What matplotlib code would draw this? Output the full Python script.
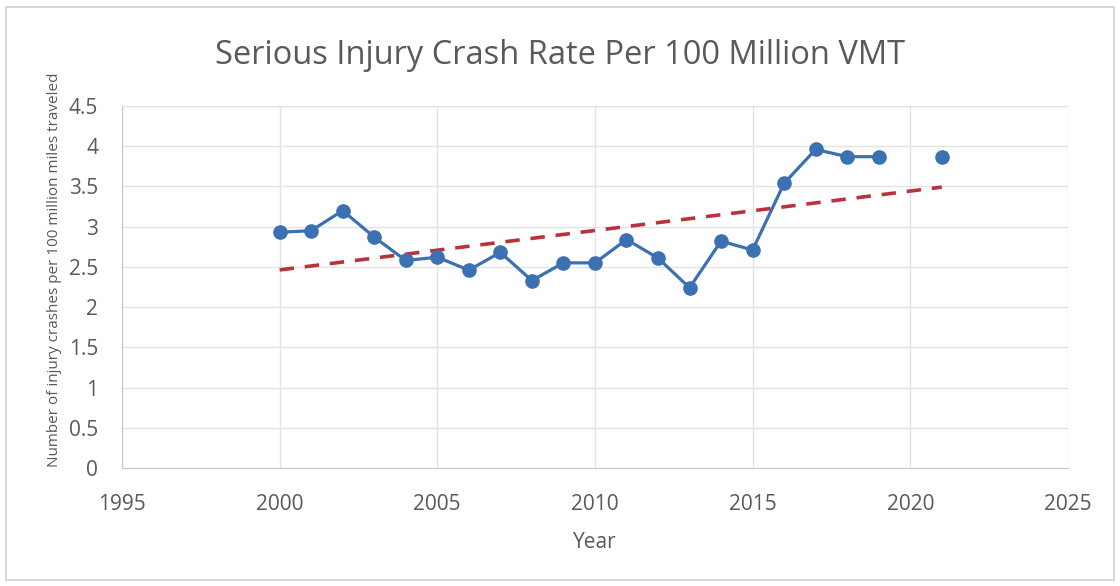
import numpy as np
import matplotlib
matplotlib.use("Agg")
import matplotlib.pyplot as plt
from matplotlib.patches import Rectangle

# Serious injury crash rate per 100 million vehicle miles traveled
years = [2000, 2001, 2002, 2003, 2004, 2005, 2006, 2007, 2008, 2009, 2010,
         2011, 2012, 2013, 2014, 2015, 2016, 2017, 2018, 2019]
rates = [2.93, 2.95, 3.20, 2.87, 2.58, 2.62, 2.46, 2.68, 2.33, 2.55, 2.55,
         2.84, 2.61, 2.24, 2.82, 2.71, 3.54, 3.96, 3.87, 3.87]
year_2021 = [2021]
rate_2021 = [3.87]

x_ticks = [1995, 2000, 2005, 2010, 2015, 2020, 2025]
y_ticks = [0, 0.5, 1, 1.5, 2, 2.5, 3, 3.5, 4, 4.5]
y_tick_labels = ["0", "0.5", "1", "1.5", "2", "2.5", "3", "3.5", "4", "4.5"]

plt.rcParams["font.family"] = ["Open Sans", "DejaVu Sans"]

fig = plt.figure(figsize=(11.2, 5.86), dpi=100)
ax = fig.add_axes([0.1089, 0.2014, 0.8446, 0.6177])

blue = "#3B70B3"
red = "#B8333B"
grid_c = "#E3E3E3"
text_c = "#595959"

# Linear trend over all observed years
all_x = np.array(years + year_2021, dtype=float)
all_y = np.array(rates + rate_2021, dtype=float)
slope, intercept = np.polyfit(all_x, all_y, 1)
tx = np.array([all_x.min(), all_x.max()])
ax.plot(tx, slope * tx + intercept, color=red, lw=2.6, ls=(0, (4, 3)), zorder=2)

ax.plot(years, rates, color=blue, lw=2.3, marker="o", markersize=9.5,
        markerfacecolor=blue, markeredgecolor=blue, zorder=3)
ax.plot(year_2021, rate_2021, ls="none", marker="o", markersize=9.5,
        color=blue, zorder=3)

ax.set_xlim(1995, 2025)
ax.set_ylim(0, 4.5)
ax.set_xticks(x_ticks)
ax.set_yticks(y_ticks)
ax.set_yticklabels(y_tick_labels)
ax.grid(True, color=grid_c, lw=1.0, zorder=0)
ax.set_axisbelow(True)
ax.tick_params(axis="x", length=0, colors=text_c, labelsize=15, pad=19)
ax.tick_params(axis="y", length=0, colors=text_c, labelsize=15, pad=17)
for s in ax.spines.values():
    s.set_visible(False)
ax.spines["bottom"].set_visible(True)
ax.spines["bottom"].set_color("#C8C8C8")
ax.spines["left"].set_visible(True)
ax.spines["left"].set_color("#C8C8C8")

ax.set_xlabel("Year", fontsize=15, color=text_c, labelpad=12)
fig.text(55 / 1120, 1 - 270 / 586,
         "Number of injury crashes per 100 million miles traveled",
         rotation=90, ha="center", va="center", fontsize=11, color=text_c)

fig.text(0.5, 1 - 64 / 586, "Serious Injury Crash Rate Per 100 Million VMT",
         ha="center", va="baseline", fontsize=23.5, color=text_c)

fig.patches.append(Rectangle((0.005, 0.01), 0.99, 0.978, transform=fig.transFigure,
                             fill=False, edgecolor="#D0D0D0", lw=1.2))

fig.savefig("out.png", dpi=100)
